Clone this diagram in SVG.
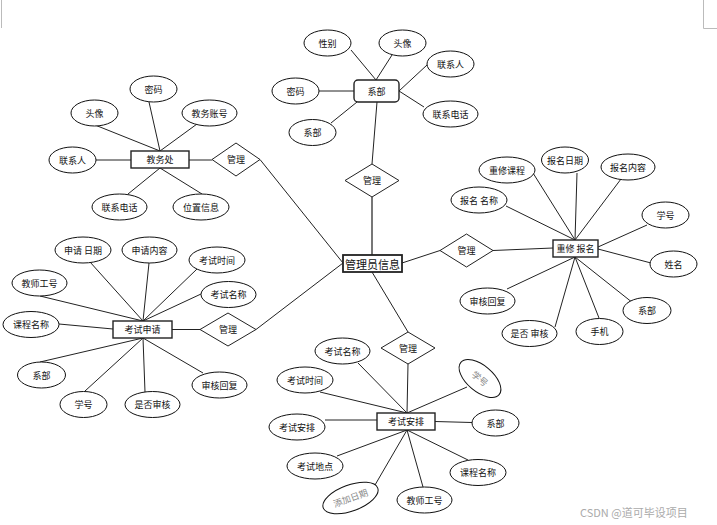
<svg xmlns="http://www.w3.org/2000/svg" width="717" height="525" viewBox="0 0 717 525">
<style>
.e{fill:#fff;stroke:#111;stroke-width:1}
.r{fill:#fff;stroke:#222;stroke-width:1.4}
.d{fill:#fff;stroke:#222;stroke-width:1}
.t{font-family:"Noto Sans CJK SC","Liberation Sans",sans-serif;font-size:9px;fill:#111;text-anchor:middle;dominant-baseline:central}
.g{fill:#888}
.c line{stroke:#222;stroke-width:1}
.mark{stroke:#bbb;stroke-width:1;fill:none}
</style>
<rect width="717" height="525" fill="#fff"/>
<path class="mark" d="M1.5 0V28"/>
<path class="mark" d="M703.5 0V28.5H717"/>
<g id="connectors" class="c">
<line x1="95" y1="125" x2="160" y2="151"/>
<line x1="149" y1="102" x2="160" y2="151"/>
<line x1="197" y1="124" x2="160" y2="151"/>
<line x1="96" y1="160" x2="131" y2="160"/>
<line x1="189" y1="160" x2="212" y2="160"/>
<line x1="160" y1="168" x2="128" y2="194"/>
<line x1="160" y1="168" x2="202" y2="194"/>
<line x1="260" y1="159.5" x2="343" y2="263"/>
<line x1="351" y1="50" x2="376" y2="80"/>
<line x1="392" y1="55" x2="376" y2="80"/>
<line x1="427" y1="65" x2="399" y2="91"/>
<line x1="399" y1="91" x2="424" y2="107"/>
<line x1="319" y1="91" x2="354" y2="91"/>
<line x1="331" y1="123" x2="357" y2="102"/>
<line x1="377" y1="102" x2="372" y2="164"/>
<line x1="372" y1="197" x2="372" y2="255" style="stroke:#555;stroke-width:1.6"/>
<line x1="533" y1="173" x2="575" y2="240"/>
<line x1="577" y1="173" x2="575" y2="240"/>
<line x1="621" y1="179" x2="575" y2="240"/>
<line x1="506" y1="206" x2="575" y2="240"/>
<line x1="647" y1="225" x2="598" y2="247"/>
<line x1="598" y1="249" x2="651" y2="263"/>
<line x1="493" y1="250.5" x2="553" y2="248"/>
<line x1="402" y1="263" x2="440" y2="250.5"/>
<line x1="575" y1="257" x2="507" y2="289"/>
<line x1="575" y1="257" x2="555" y2="327"/>
<line x1="575" y1="257" x2="599" y2="318"/>
<line x1="575" y1="257" x2="633" y2="303"/>
<line x1="90" y1="262" x2="143" y2="321"/>
<line x1="149" y1="263" x2="143" y2="321"/>
<line x1="197" y1="269" x2="143" y2="321"/>
<line x1="201" y1="294" x2="143" y2="321"/>
<line x1="40" y1="296" x2="143" y2="321"/>
<line x1="59" y1="324" x2="113" y2="329"/>
<line x1="172" y1="329.5" x2="200" y2="329.5"/>
<line x1="256" y1="329.5" x2="343" y2="263"/>
<line x1="143" y1="338" x2="40" y2="362"/>
<line x1="143" y1="338" x2="85" y2="391"/>
<line x1="143" y1="338" x2="145" y2="392"/>
<line x1="143" y1="338" x2="203" y2="373"/>
<line x1="372" y1="272" x2="408" y2="332"/>
<line x1="408" y1="364" x2="407" y2="413"/>
<line x1="358" y1="363" x2="407" y2="413"/>
<line x1="320" y1="392" x2="407" y2="413"/>
<line x1="467" y1="387" x2="407" y2="413"/>
<line x1="325" y1="420" x2="377" y2="420"/>
<line x1="435" y1="421.5" x2="472" y2="422.5"/>
<line x1="407" y1="430" x2="337" y2="456"/>
<line x1="407" y1="430" x2="375" y2="485"/>
<line x1="407" y1="430" x2="423" y2="487"/>
<line x1="407" y1="430" x2="468" y2="460"/>
</g>

<!-- 教务处 cluster -->
<g id="jw_mima"><ellipse class="e" cx="153.5" cy="89" rx="23.5" ry="13"/><text class="t" x="153.5" y="89">密码</text></g>
<g id="jw_touxiang"><ellipse class="e" cx="94.5" cy="113" rx="23.5" ry="13"/><text class="t" x="94.5" y="113">头像</text></g>
<g id="jw_zhanghao"><ellipse class="e" cx="209.5" cy="113" rx="27.5" ry="13"/><text class="t" x="209.5" y="113">教务账号</text></g>
<g id="jw_lxr"><ellipse class="e" cx="72.5" cy="160" rx="23.5" ry="13"/><text class="t" x="72.5" y="160">联系人</text></g>
<g id="jwc"><rect class="r" x="131" y="151" width="58" height="17"/><text class="t" x="160" y="159.5">教务处</text></g>
<g id="jw_guanli"><polygon class="d" points="212,159.5 236,143 260,159.5 236,176"/><text class="t" x="236" y="159.5">管理</text></g>
<g id="jw_lxdh"><ellipse class="e" cx="119.5" cy="207" rx="27.5" ry="13"/><text class="t" x="119.5" y="207">联系电话</text></g>
<g id="jw_wzxx"><ellipse class="e" cx="201" cy="207" rx="28" ry="13"/><text class="t" x="201" y="207">位置信息</text></g>

<!-- 系部 cluster -->
<g id="xb_xingbie"><ellipse class="e" cx="327.5" cy="43" rx="23.5" ry="13"/><text class="t" x="327.5" y="43">性别</text></g>
<g id="xb_touxiang"><ellipse class="e" cx="402.5" cy="43" rx="23.5" ry="13"/><text class="t" x="402.5" y="43">头像</text></g>
<g id="xb_lxr"><ellipse class="e" cx="450.5" cy="64" rx="23.5" ry="13"/><text class="t" x="450.5" y="64">联系人</text></g>
<g id="xibu"><rect class="r" x="354" y="80" width="45" height="22" rx="4"/><text class="t" x="376.5" y="91">系部</text></g>
<g id="xb_mima"><ellipse class="e" cx="295.5" cy="91" rx="23.5" ry="13"/><text class="t" x="295.5" y="91">密码</text></g>
<g id="xb_lxdh"><ellipse class="e" cx="450.5" cy="114" rx="27.5" ry="13"/><text class="t" x="450.5" y="114">联系电话</text></g>
<g id="xb_xibu"><ellipse class="e" cx="312.5" cy="132.5" rx="23.5" ry="13"/><text class="t" x="312.5" y="132.5">系部</text></g>
<g id="xb_guanli"><polygon class="d" points="345,180.5 372,164 399,180.5 372,197"/><text class="t" x="372" y="180.5">管理</text></g>

<!-- 管理员信息 -->
<g id="admin"><rect class="r" x="343" y="255" width="59" height="17" style="stroke-width:1.8"/><text class="t" x="372.5" y="263.5" style="font-size:11px">管理员信息</text></g>

<!-- 重修报名 cluster -->
<g id="cx_kc"><ellipse class="e" cx="507" cy="170" rx="28" ry="13"/><text class="t" x="507" y="170">重修课程</text></g>
<g id="cx_rq"><ellipse class="e" cx="565" cy="160" rx="23.5" ry="13"/><text class="t" x="565" y="160">报名日期</text></g>
<g id="cx_nr"><ellipse class="e" cx="628" cy="167" rx="27" ry="13"/><text class="t" x="628" y="167">报名内容</text></g>
<g id="cx_mc"><ellipse class="e" cx="479" cy="200" rx="28" ry="13"/><text class="t" x="479" y="200">报名 名称</text></g>
<g id="cx_xh"><ellipse class="e" cx="665.5" cy="215" rx="23.5" ry="13"/><text class="t" x="665.5" y="215">学号</text></g>
<g id="chongxiu"><rect class="r" x="553" y="240" width="45" height="17"/><text class="t" x="575.5" y="248.5">重修 报名</text></g>
<g id="cx_guanli"><polygon class="d" points="440,250.5 466.5,234 493,250.5 466.5,267"/><text class="t" x="466.5" y="250.5">管理</text></g>
<g id="cx_xm"><ellipse class="e" cx="673.5" cy="264" rx="23.5" ry="13"/><text class="t" x="673.5" y="264">姓名</text></g>
<g id="cx_shhf"><ellipse class="e" cx="487.5" cy="301" rx="27.5" ry="13"/><text class="t" x="487.5" y="301">审核回复</text></g>
<g id="cx_xibu"><ellipse class="e" cx="647" cy="310.5" rx="24" ry="13"/><text class="t" x="647" y="310.5">系部</text></g>
<g id="cx_sfsh"><ellipse class="e" cx="529.5" cy="333.5" rx="27.5" ry="13"/><text class="t" x="529.5" y="333.5">是否 审核</text></g>
<g id="cx_sj"><ellipse class="e" cx="599.5" cy="331.5" rx="23.5" ry="13"/><text class="t" x="599.5" y="331.5">手机</text></g>

<!-- 考试申请 cluster -->
<g id="sq_rq"><ellipse class="e" cx="83" cy="250" rx="28" ry="13"/><text class="t" x="83" y="250">申请 日期</text></g>
<g id="sq_nr"><ellipse class="e" cx="149.5" cy="250" rx="27.5" ry="13"/><text class="t" x="149.5" y="250">申请内容</text></g>
<g id="sq_kssj"><ellipse class="e" cx="217" cy="260" rx="28" ry="13"/><text class="t" x="217" y="260">考试时间</text></g>
<g id="sq_jsgh"><ellipse class="e" cx="39.5" cy="283" rx="27.5" ry="13"/><text class="t" x="39.5" y="283">教师工号</text></g>
<g id="sq_ksmc"><ellipse class="e" cx="228.5" cy="294.5" rx="27.5" ry="13"/><text class="t" x="228.5" y="294.5">考试名称</text></g>
<g id="sq_kcmc"><ellipse class="e" cx="31" cy="324.5" rx="28" ry="13"/><text class="t" x="31" y="324.5">课程名称</text></g>
<g id="kssq"><rect class="r" x="113" y="321" width="59" height="17"/><text class="t" x="142.5" y="329.5">考试申请</text></g>
<g id="sq_guanli"><polygon class="d" points="200,329.5 228,313 256,329.5 228,346"/><text class="t" x="228" y="329.5">管理</text></g>
<g id="sq_xibu"><ellipse class="e" cx="41.5" cy="375" rx="24" ry="13"/><text class="t" x="41.5" y="375">系部</text></g>
<g id="sq_xh"><ellipse class="e" cx="83.5" cy="404.5" rx="23.5" ry="13"/><text class="t" x="83.5" y="404.5">学号</text></g>
<g id="sq_sfsh"><ellipse class="e" cx="152.5" cy="404.5" rx="27.5" ry="13"/><text class="t" x="152.5" y="404.5">是否审核</text></g>
<g id="sq_shhf"><ellipse class="e" cx="219.5" cy="385" rx="27.5" ry="13"/><text class="t" x="219.5" y="385">审核回复</text></g>

<!-- 考试安排 cluster -->
<g id="ap_guanli"><polygon class="d" points="381,348 408,332 435,348 408,364"/><text class="t" x="408" y="348">管理</text></g>
<g id="ap_ksmc"><ellipse class="e" cx="342.5" cy="351" rx="27.5" ry="13"/><text class="t" x="342.5" y="351">考试名称</text></g>
<g id="ap_kssj"><ellipse class="e" cx="305" cy="380" rx="28" ry="13"/><text class="t" x="305" y="380">考试时间</text></g>
<g id="ap_xh" transform="rotate(40 480 378.5)"><ellipse class="e" cx="480" cy="378.5" rx="25" ry="13"/><text class="t g" x="480" y="378.5">学号</text></g>
<g id="ksap"><rect class="r" x="377" y="413" width="58" height="17"/><text class="t" x="406" y="421.5">考试安排</text></g>
<g id="ap_xibu"><ellipse class="e" cx="495.5" cy="423" rx="23.5" ry="13"/><text class="t" x="495.5" y="423">系部</text></g>
<g id="ap_ksap"><ellipse class="e" cx="297" cy="427" rx="28" ry="13"/><text class="t" x="297" y="427">考试安排</text></g>
<g id="ap_ksdd"><ellipse class="e" cx="315" cy="466" rx="28" ry="13"/><text class="t" x="315" y="466">考试地点</text></g>
<g id="ap_kcmc"><ellipse class="e" cx="478" cy="472.5" rx="28" ry="13"/><text class="t" x="478" y="472.5">课程名称</text></g>
<g id="ap_jsgh"><ellipse class="e" cx="424.5" cy="500" rx="27.5" ry="13"/><text class="t" x="424.5" y="500">教师工号</text></g>
<g id="ap_tjrq" transform="rotate(-20 350.5 498)"><ellipse class="e" cx="350.5" cy="498" rx="29" ry="13"/><text class="t g" x="350.5" y="498">添加日期</text></g>

<text x="580" y="517" style="font-family:'Noto Sans CJK SC','Liberation Sans',sans-serif;font-size:11px;fill:#aaa">CSDN @道可毕设项目</text>
</svg>
